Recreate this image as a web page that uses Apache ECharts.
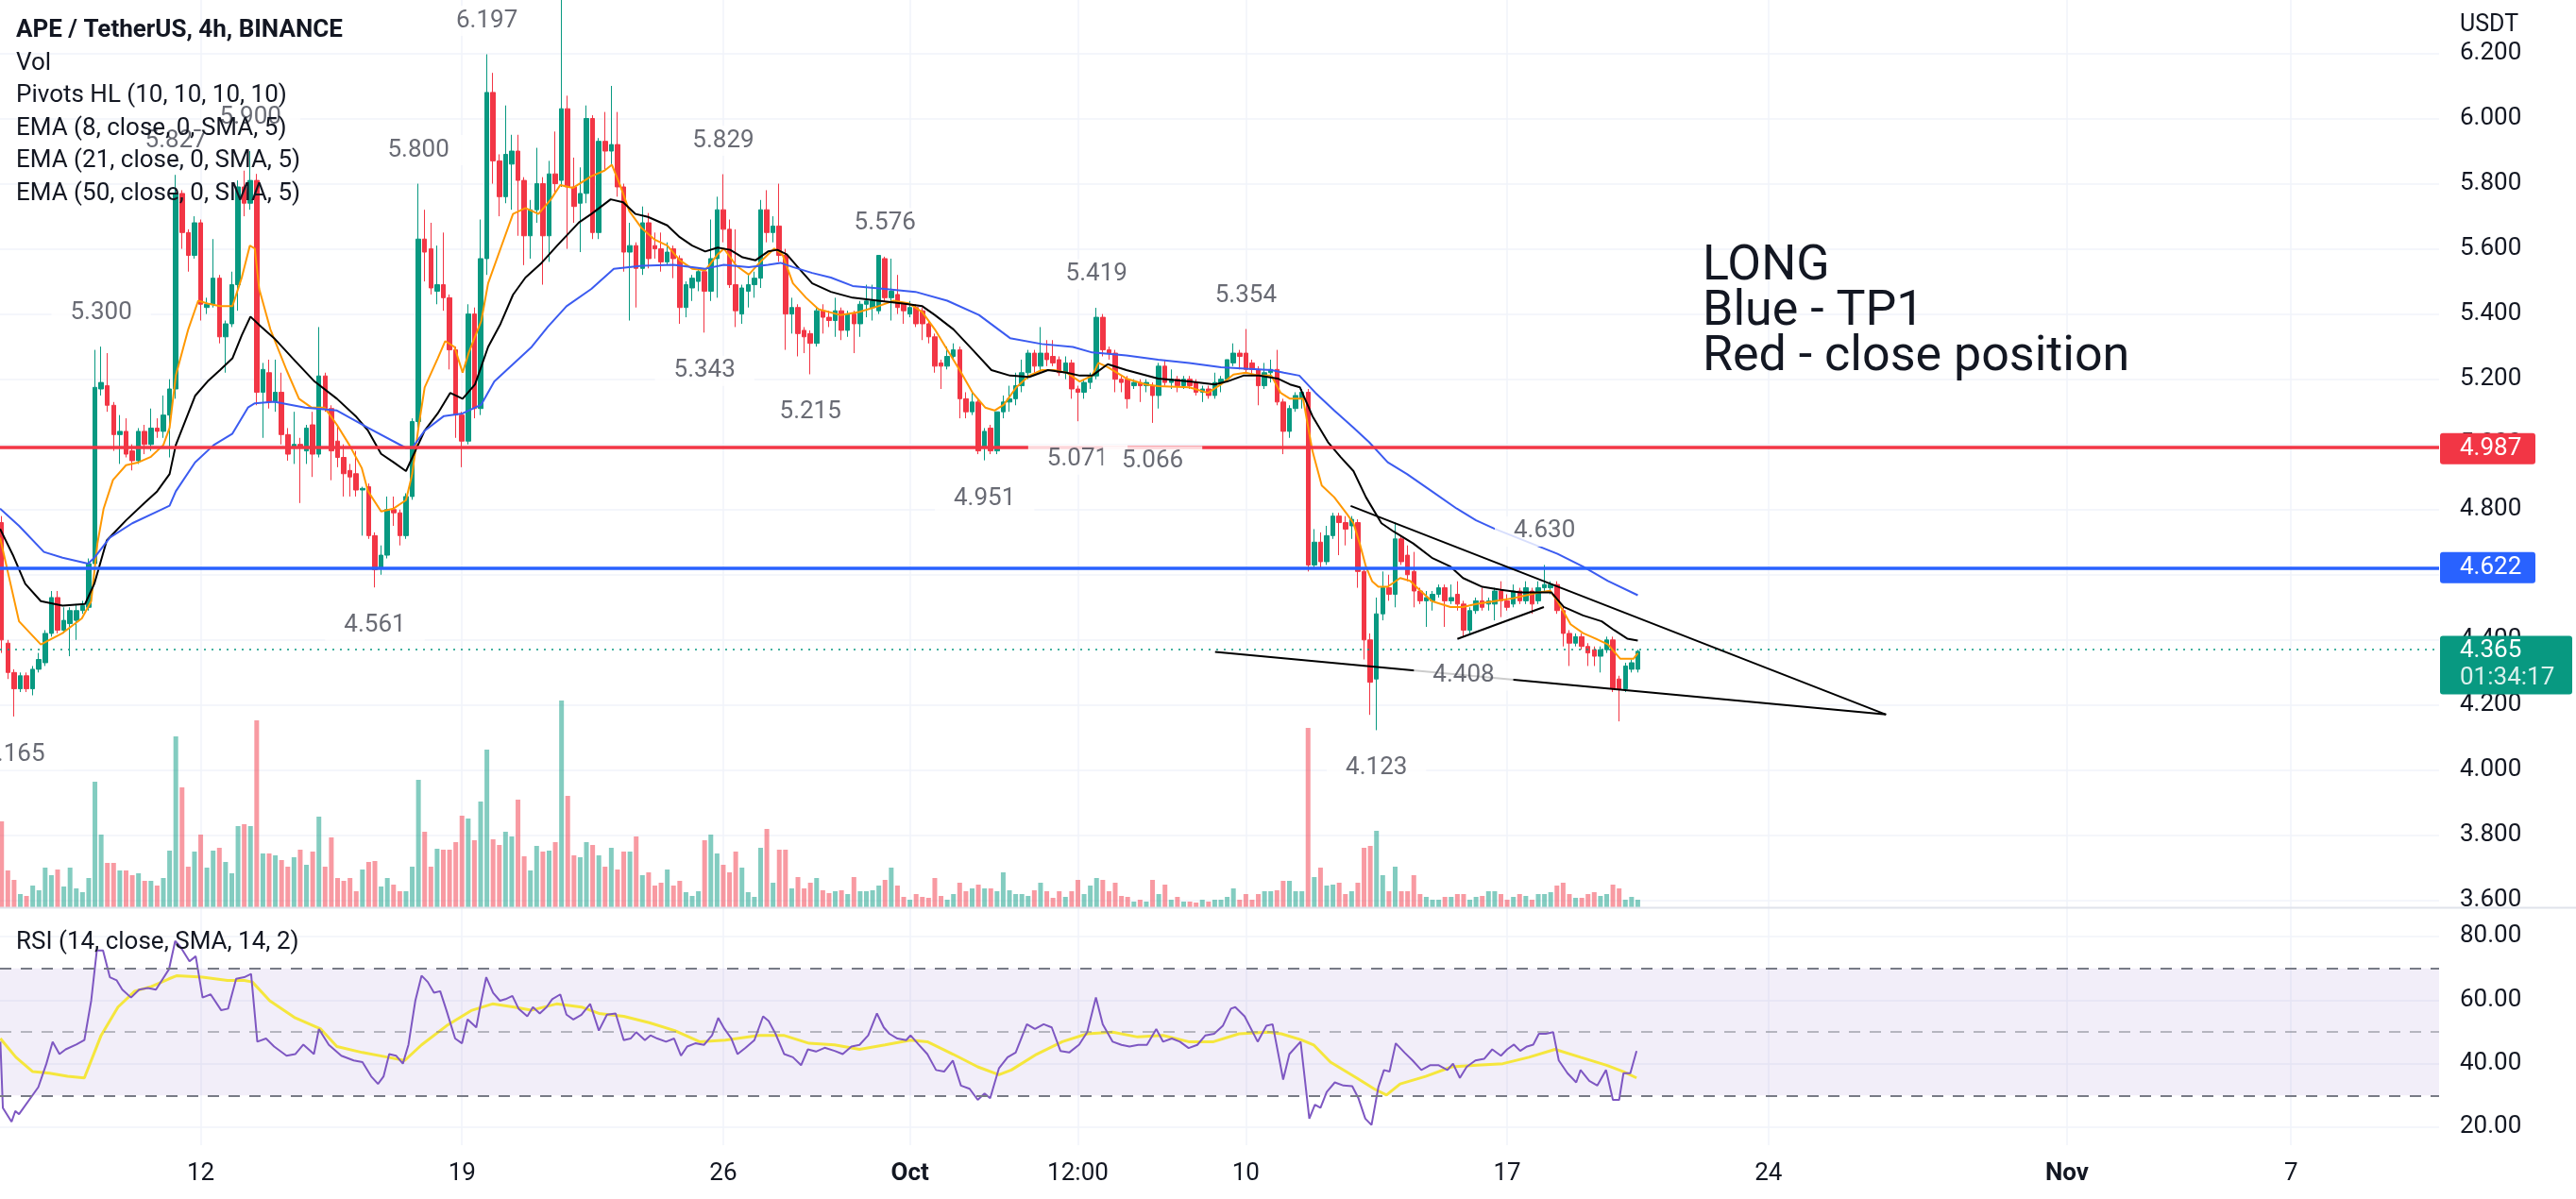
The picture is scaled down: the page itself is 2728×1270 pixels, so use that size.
<!DOCTYPE html>
<html><head><meta charset="utf-8">
<script src="https://cdn.jsdelivr.net/npm/echarts@6/dist/echarts.min.js"></script>
<style>html,body{margin:0;padding:0;background:#fff}#c{width:2728px;height:1270px}</style>
</head><body><div id="c"></div>
<script>
// ---- data (4h bars; bar index 0 = Sep 12 00:00) ----
const firstBar = -32;
const ohlc = [ // [open, close, low, high]
[4.76,4.40,4.36,4.78],[4.39,4.30,4.28,4.40],[4.30,4.25,4.165,4.31],[4.25,4.29,4.24,4.30],[4.29,4.25,4.24,4.30],[4.25,4.31,4.23,4.32],[4.31,4.34,4.30,4.36],[4.33,4.42,4.32,4.43],[4.42,4.53,4.41,4.55],[4.53,4.43,4.42,4.55],
[4.43,4.46,4.42,4.50],[4.45,4.49,4.35,4.50],[4.46,4.49,4.40,4.51],[4.49,4.505,4.48,4.52],[4.50,4.634,4.49,4.65],[4.634,5.175,4.62,5.29],[5.17,5.19,5.15,5.30],[5.18,5.12,5.10,5.28],[5.12,5.03,4.98,5.13],[5.03,5.04,4.94,5.09],
[5.04,4.97,4.96,5.08],[4.98,4.95,4.92,5.00],[4.95,5.04,4.94,5.05],[5.04,5.00,4.97,5.06],[5.00,5.05,4.98,5.11],[5.05,5.04,5.02,5.08],[5.04,5.09,5.02,5.15],[5.09,5.17,4.96,5.20],[5.17,5.77,5.14,5.827],[5.77,5.65,5.60,5.78],
[5.65,5.58,5.53,5.66],[5.58,5.68,5.57,5.70],[5.68,5.43,5.38,5.69],[5.42,5.43,5.40,5.45],[5.43,5.51,5.42,5.63],[5.51,5.33,5.31,5.52],[5.33,5.37,5.22,5.38],[5.37,5.49,5.36,5.53],[5.49,5.79,5.41,5.81],[5.79,5.74,5.70,5.84],
[5.74,5.81,5.72,5.90],[5.81,5.16,5.12,5.83],[5.16,5.23,5.02,5.25],[5.22,5.13,5.11,5.26],[5.13,5.16,5.10,5.26],[5.16,5.03,5.00,5.22],[5.03,4.97,4.95,5.05],[4.99,5.00,4.94,5.10],[5.00,4.99,4.82,5.02],[4.98,5.05,4.94,5.06],
[5.06,4.97,4.90,5.10],[4.97,5.21,4.96,5.36],[5.21,5.11,5.10,5.22],[5.11,4.98,4.89,5.12],[5.01,4.96,4.93,5.06],[4.96,4.91,4.84,5.00],[4.92,4.90,4.84,4.94],[4.91,4.86,4.84,4.98],[4.86,4.865,4.72,4.87],[4.87,4.72,4.71,4.88],
[4.72,4.615,4.561,4.73],[4.62,4.66,4.60,4.69],[4.66,4.80,4.65,4.84],[4.80,4.79,4.75,4.84],[4.79,4.72,4.69,4.80],[4.72,4.84,4.71,4.85],[4.84,5.07,4.83,5.08],[5.07,5.63,5.05,5.80],[5.63,5.59,5.50,5.72],[5.60,5.48,5.46,5.68],
[5.47,5.49,5.43,5.61],[5.49,5.45,5.41,5.65],[5.45,5.29,5.23,5.46],[5.29,5.09,5.02,5.30],[5.09,5.01,4.93,5.10],[5.01,5.40,5.00,5.43],[5.40,5.11,5.08,5.42],[5.11,5.57,5.09,5.69],[5.57,6.08,5.52,6.197],[6.08,5.87,5.80,6.14],
[5.87,5.76,5.70,5.89],[5.76,5.89,5.74,6.04],[5.86,5.90,5.72,5.95],[5.90,5.81,5.64,5.95],[5.81,5.64,5.55,5.82],[5.64,5.72,5.57,5.75],[5.72,5.80,5.68,5.91],[5.80,5.64,5.49,5.82],[5.64,5.83,5.56,5.87],[5.83,5.80,5.77,5.96],
[5.81,6.03,5.79,6.45],[6.03,5.79,5.60,6.07],[5.79,5.73,5.68,5.88],[5.74,5.77,5.59,5.85],[5.77,6.00,5.74,6.04],[6.00,5.65,5.63,6.01],[5.65,5.93,5.63,5.94],[5.93,5.90,5.84,6.02],[5.90,5.92,5.86,6.10],[5.92,5.79,5.76,6.02],
[5.79,5.59,5.53,5.80],[5.59,5.61,5.38,5.68],[5.61,5.54,5.42,5.62],[5.54,5.68,5.52,5.73],[5.68,5.57,5.54,5.71],[5.61,5.60,5.57,5.65],[5.60,5.56,5.53,5.65],[5.56,5.59,5.55,5.62],[5.60,5.57,5.51,5.61],[5.57,5.42,5.37,5.58],
[5.42,5.49,5.39,5.50],[5.48,5.51,5.44,5.52],[5.50,5.53,5.47,5.54],[5.53,5.47,5.343,5.54],[5.47,5.57,5.44,5.69],[5.57,5.72,5.45,5.76],[5.72,5.66,5.62,5.829],[5.66,5.49,5.48,5.69],[5.49,5.41,5.36,5.66],[5.40,5.48,5.37,5.49],
[5.47,5.49,5.42,5.52],[5.49,5.51,5.45,5.53],[5.51,5.72,5.48,5.75],[5.72,5.65,5.62,5.78],[5.65,5.67,5.62,5.70],[5.67,5.58,5.56,5.80],[5.58,5.40,5.29,5.60],[5.40,5.42,5.34,5.45],[5.42,5.34,5.27,5.43],[5.35,5.33,5.28,5.36],
[5.34,5.31,5.215,5.35],[5.31,5.41,5.30,5.42],[5.41,5.39,5.34,5.43],[5.39,5.38,5.36,5.41],[5.38,5.41,5.33,5.45],[5.41,5.35,5.32,5.42],[5.35,5.40,5.33,5.41],[5.40,5.37,5.28,5.41],[5.37,5.43,5.33,5.44],[5.43,5.44,5.39,5.49],
[5.42,5.44,5.38,5.49],[5.41,5.58,5.40,5.58],[5.57,5.45,5.44,5.576],[5.45,5.47,5.38,5.57],[5.46,5.42,5.40,5.52],[5.43,5.41,5.37,5.43],[5.40,5.42,5.39,5.44],[5.42,5.37,5.36,5.43],[5.41,5.37,5.32,5.42],[5.37,5.33,5.31,5.38],
[5.33,5.24,5.22,5.34],[5.25,5.24,5.17,5.26],[5.24,5.27,5.23,5.30],[5.27,5.29,5.26,5.31],[5.29,5.14,5.08,5.30],[5.14,5.10,5.08,5.16],[5.10,5.13,5.09,5.16],[5.13,4.98,4.97,5.14],[4.99,5.04,4.951,5.05],[5.05,4.98,4.97,5.06],
[4.98,5.10,4.97,5.10],[5.10,5.13,5.08,5.15],[5.13,5.14,5.10,5.18],[5.14,5.18,5.12,5.22],[5.18,5.22,5.16,5.26],[5.22,5.28,5.20,5.29],[5.28,5.24,5.22,5.29],[5.24,5.28,5.22,5.36],[5.28,5.26,5.24,5.32],[5.27,5.25,5.24,5.32],
[5.26,5.22,5.21,5.27],[5.22,5.25,5.20,5.27],[5.25,5.17,5.14,5.26],[5.17,5.16,5.071,5.18],[5.16,5.19,5.14,5.20],[5.19,5.21,5.17,5.22],[5.21,5.39,5.20,5.419],[5.39,5.29,5.27,5.40],[5.29,5.28,5.26,5.30],[5.28,5.20,5.16,5.29],
[5.20,5.19,5.16,5.21],[5.20,5.14,5.11,5.21],[5.18,5.19,5.17,5.20],[5.19,5.18,5.13,5.20],[5.18,5.19,5.16,5.20],[5.18,5.15,5.066,5.19],[5.15,5.24,5.11,5.25],[5.24,5.19,5.18,5.26],[5.19,5.20,5.17,5.23],[5.20,5.18,5.16,5.21],
[5.18,5.20,5.17,5.21],[5.20,5.18,5.17,5.21],[5.19,5.16,5.15,5.20],[5.16,5.17,5.13,5.18],[5.17,5.15,5.14,5.18],[5.15,5.19,5.14,5.22],[5.19,5.20,5.16,5.21],[5.20,5.26,5.19,5.26],[5.25,5.28,5.24,5.31],[5.28,5.27,5.23,5.29],
[5.28,5.23,5.22,5.354],[5.25,5.23,5.21,5.26],[5.23,5.18,5.12,5.24],[5.18,5.22,5.17,5.25],[5.22,5.23,5.19,5.26],[5.23,5.13,5.12,5.29],[5.13,5.04,4.97,5.14],[5.04,5.11,5.02,5.12],[5.11,5.15,5.10,5.16],[5.14,5.16,5.11,5.17],
[5.16,4.63,4.61,5.17],[4.63,4.70,4.62,4.74],[4.70,4.64,4.62,4.73],[4.64,4.72,4.63,4.75],[4.72,4.78,4.71,4.79],[4.78,4.76,4.66,4.79],[4.76,4.74,4.69,4.78],[4.75,4.77,4.71,4.78],[4.76,4.61,4.56,4.77],[4.61,4.40,4.34,4.62],
[4.40,4.27,4.17,4.42],[4.28,4.48,4.123,4.53],[4.48,4.56,4.46,4.61],[4.56,4.54,4.52,4.60],[4.54,4.71,4.50,4.76],[4.71,4.64,4.63,4.72],[4.66,4.60,4.58,4.69],[4.61,4.55,4.50,4.67],[4.55,4.52,4.51,4.56],[4.52,4.53,4.44,4.55],
[4.52,4.54,4.49,4.55],[4.54,4.56,4.53,4.57],[4.56,4.52,4.44,4.57],[4.52,4.53,4.51,4.57],[4.54,4.51,4.49,4.58],[4.51,4.43,4.408,4.52],[4.43,4.49,4.42,4.50],[4.49,4.52,4.48,4.53],[4.52,4.50,4.49,4.56],[4.51,4.52,4.49,4.53],
[4.51,4.55,4.46,4.56],[4.55,4.52,4.47,4.58],[4.52,4.50,4.49,4.54],[4.51,4.55,4.50,4.57],[4.55,4.52,4.51,4.56],[4.52,4.56,4.51,4.58],[4.55,4.51,4.48,4.56],[4.52,4.56,4.51,4.58],[4.56,4.57,4.55,4.630],[4.56,4.57,4.54,4.58],
[4.57,4.49,4.48,4.58],[4.49,4.42,4.38,4.50],[4.42,4.39,4.32,4.43],[4.39,4.41,4.38,4.42],[4.41,4.38,4.37,4.42],[4.38,4.36,4.32,4.39],[4.37,4.35,4.32,4.38],[4.35,4.37,4.30,4.38],[4.37,4.40,4.36,4.41],[4.40,4.25,4.24,4.41],
[4.28,4.25,4.15,4.29],[4.25,4.32,4.24,4.33],[4.31,4.33,4.30,4.34],[4.31,4.365,4.30,4.37]
];
const volume = [
91,39,29,14,12,23,18,42,34,40, 22,42,20,16,31,133,77,47,47,39, 39,34,36,28,28,23,31,60,181,127, 43,59,77,42,60,63,48,36,86,88,
86,198,57,57,55,50,43,53,61,45, 59,96,43,74,31,28,31,17,40,48, 49,22,31,24,17,17,43,135,80,43, 62,61,61,69,97,94,71,112,167,72,
66,80,75,114,54,39,65,59,60,69, 219,118,55,53,69,66,55,43,63,40, 59,59,75,34,37,23,26,40,23,28, 16,12,17,71,77,57,45,37,59,42,
16,11,63,83,26,61,61,20,32,20, 26,31,18,15,17,18,14,32,17,17, 18,23,29,42,23,11,8,14,11,10, 31,12,8,14,26,17,20,24,20,20,
17,37,18,14,14,12,18,26,17,10, 17,11,17,29,14,23,31,29,17,26, 12,11,6,8,6,29,14,24,8,11, 6,6,5,8,6,8,8,11,20,8,
14,8,14,17,17,18,28,28,17,17, 190,32,42,23,24,26,14,17,26,63, 65,81,34,17,43,17,17,34,14,11, 8,8,11,11,14,14,8,11,12,17,
17,14,8,11,14,12,8,14,14,16, 23,26,14,10,10,14,16,12,14,24, 20,8,11,8
];
const volumeMax = 961;
const ema8 = [[-32.25,4.714],[-29.2,4.457],[-25.7,4.386],[-22.2,4.421],[-19.1,4.466],[-17.6,4.519],[-16.6,4.696],[-15.6,4.803],[-14.1,4.891],[-12,4.936],[-10,4.945],[-8,4.962],[-6,4.998],[-5,5.051],[-4,5.211],[-2,5.353],[-0.4,5.441],[1.1,5.432],[3.1,5.424],[5.1,5.424],[6.6,5.512],[7.9,5.610],[8.7,5.601],[9.4,5.477],[11.2,5.353],[13.8,5.228],[15.8,5.140],[17.8,5.113],[19.9,5.113],[21.9,5.060],[23.9,4.998],[25.9,4.927],[26.9,4.856],[29,4.794],[31,4.803],[33,4.829],[34,4.909],[35,5.051],[36,5.175],[38.1,5.264],[39.3,5.317],[40.8,5.299],[42.1,5.220],[43.1,5.282],[45.1,5.379],[46.2,5.494],[48.2,5.601],[50.2,5.707],[52.2,5.725],[54.3,5.707],[56.3,5.752],[57.8,5.796],[59.8,5.787],[62.8,5.823],[64.9,5.840],[66.1,5.858],[67.4,5.796],[68.9,5.716],[70.9,5.663],[73,5.628],[75,5.610],[77,5.565],[79,5.539],[81.1,5.534],[83.1,5.583],[84.1,5.601],[86.1,5.548],[88.1,5.521],[90.2,5.565],[92.2,5.601],[93.5,5.583],[95.2,5.494],[97.3,5.450],[99.3,5.415],[102.8,5.397],[105.8,5.406],[108.9,5.424],[111.4,5.441],[113.9,5.432],[116,5.406],[118,5.353],[120,5.290],[122,5.228],[124.1,5.158],[126.1,5.113],[127.6,5.104],[129.1,5.122],[131.1,5.175],[133.2,5.211],[135.2,5.228],[137.2,5.228],[139.2,5.220],[141.3,5.193],[143.3,5.211],[144.3,5.25],[145.8,5.237],[148.8,5.202],[151.9,5.184],[153.9,5.179],[158.9,5.175],[161.9,5.158],[164,5.184],[166,5.214],[168,5.220],[170.1,5.211],[172.1,5.211],[173.6,5.158],[175.1,5.140],[177.2,5.140],[178.7,4.980],[180.2,4.874],[182.2,4.838],[184.3,4.785],[185.3,4.758],[186.3,4.696],[187.3,4.625],[188.3,4.58],[189.3,4.563],[190.8,4.563],[192.8,4.590],[194.4,4.581],[195.9,4.554],[197.9,4.519],[200.9,4.501],[202.9,4.501],[205,4.510],[208,4.519],[211,4.528],[213.1,4.537],[215.1,4.546],[216.9,4.551],[218.1,4.519],[220.2,4.448],[222.2,4.421],[224.2,4.404],[226.2,4.386],[228.2,4.342],[230.3,4.342],[231,4.359]];
const ema21 = [[-32.25,4.741],[-30.2,4.661],[-28.2,4.572],[-25.7,4.519],[-22.2,4.505],[-18.6,4.510],[-17.1,4.572],[-15.1,4.705],[-12,4.767],[-9,4.821],[-7,4.856],[-5,4.909],[-4,4.998],[-0.9,5.149],[1.1,5.193],[3.1,5.228],[5.1,5.264],[6.6,5.335],[8,5.392],[9.7,5.361],[11.8,5.326],[14.8,5.264],[18.3,5.193],[21.9,5.140],[24.9,5.087],[26.9,5.042],[29,4.971],[31,4.945],[33,4.918],[34.5,4.980],[36,5.042],[38.1,5.095],[40.1,5.158],[42.1,5.140],[44.1,5.184],[46.2,5.299],[48.2,5.370],[50.2,5.459],[52.2,5.512],[54.8,5.557],[57.3,5.610],[60.8,5.681],[62.8,5.707],[65.9,5.752],[67.9,5.743],[69.9,5.707],[71.9,5.698],[75,5.672],[77,5.636],[79,5.610],[81.1,5.592],[83.1,5.604],[85.1,5.597],[87.1,5.574],[89.2,5.565],[91.2,5.592],[92.7,5.597],[94.2,5.583],[96.2,5.539],[98.3,5.494],[101.3,5.468],[104.8,5.450],[108.9,5.441],[112.9,5.432],[116,5.424],[118,5.397],[121,5.353],[124.1,5.290],[127.1,5.228],[130.1,5.211],[133.2,5.207],[136.2,5.228],[139.2,5.220],[141.3,5.211],[143.3,5.211],[145.8,5.246],[148.8,5.228],[153.9,5.202],[158.9,5.193],[163,5.184],[165,5.193],[167.6,5.211],[170.1,5.211],[173.1,5.202],[175.1,5.184],[176.7,5.175],[178.7,5.087],[181.2,5.007],[183.2,4.962],[185.3,4.918],[187.3,4.838],[189.8,4.758],[191.8,4.732],[194.9,4.696],[197.9,4.652],[200.9,4.625],[202.9,4.590],[206,4.563],[209,4.554],[212.1,4.546],[215.1,4.546],[217.1,4.546],[219.1,4.501],[222.2,4.475],[225.2,4.457],[227.2,4.430],[229.3,4.404],[231,4.398]];
const ema50 = [[-32.25,4.803],[-29.2,4.750],[-25.2,4.670],[-22.2,4.652],[-18.1,4.634],[-17.1,4.652],[-14.6,4.714],[-11,4.758],[-7,4.794],[-5,4.812],[-4,4.856],[-0.9,4.945],[2.1,4.998],[5.1,5.033],[7.6,5.113],[8.7,5.126],[11.8,5.131],[16.8,5.113],[21.9,5.104],[26.9,5.051],[33,4.989],[34,4.989],[36,5.042],[39.1,5.087],[42.1,5.095],[45.1,5.122],[47.2,5.193],[50.2,5.246],[53.2,5.299],[55.8,5.361],[58.8,5.424],[62.8,5.477],[66.4,5.539],[70.9,5.548],[76,5.551],[81.1,5.539],[84.1,5.551],[88.1,5.544],[91.2,5.551],[93.2,5.557],[95.2,5.544],[98.3,5.526],[101.3,5.512],[104.8,5.486],[109.9,5.477],[114.9,5.468],[120,5.441],[125.1,5.397],[130.1,5.326],[135.2,5.308],[140.2,5.299],[143.3,5.282],[148.8,5.273],[153.9,5.260],[158.9,5.250],[164,5.237],[168,5.232],[172.1,5.228],[174.1,5.220],[176.6,5.211],[179.2,5.158],[182.2,5.104],[185.3,5.051],[187.8,5.007],[190.8,4.945],[193.9,4.909],[197.9,4.856],[201.9,4.803],[205,4.767],[208,4.741],[218.1,4.664],[222.2,4.625],[226.2,4.581],[231,4.537]];
const rsi = [[-32.2,46.9],[-31.8,26.1],[-30.4,21.7],[-29.8,25.1],[-29.2,24.1],[-26.1,32.6],[-24.8,40.0],[-23.8,46.9],[-22.7,43.0],[-21.7,44.5],[-20.0,46.0],[-18.7,47.4],[-17.6,59.8],[-16.7,75.6],[-15.7,75.6],[-14.6,67.2],[-13.5,66.2],[-12.6,63.3],[-11.2,60.8],[-9.9,63.3],[-8.5,63.8],[-7.2,63.3],[-5.1,69.7],[-4.1,78.6],[-3.2,76.6],[-1.8,72.2],[-0.8,73.8],[0.3,60.8],[1.6,61.8],[3.3,56.8],[4.4,57.3],[5.7,66.7],[7.0,67.2],[8.1,68.2],[9.1,46.9],[10.5,47.9],[11.8,45.4],[13.8,42.5],[15.2,43.0],[16.5,46.0],[18.2,43.0],[19.0,50.9],[20.6,45.9],[22.6,42.5],[24.6,41.0],[26.0,40.5],[27.4,36.0],[28.5,33.6],[29.4,36.0],[30.3,43.0],[31.4,42.5],[32.5,40.0],[33.4,46.0],[34.5,59.8],[35.5,67.7],[36.5,65.7],[37.5,62.3],[38.5,62.8],[39.5,56.8],[40.9,47.9],[42.0,46.4],[42.9,53.9],[44.3,51.4],[45.0,58.8],[45.9,67.2],[47.0,62.3],[48.1,59.8],[49.0,60.3],[50.1,61.3],[51.1,57.3],[52.5,54.9],[53.4,57.8],[54.5,55.8],[55.6,57.8],[56.5,60.3],[57.8,61.8],[58.8,55.4],[59.9,53.9],[61.2,55.4],[62.6,58.8],[64.0,50.4],[65.3,55.4],[66.7,55.8],[68.0,47.4],[69.1,47.9],[70.0,49.9],[71.4,47.4],[72.3,48.9],[73.4,47.9],[74.8,46.9],[76.1,47.9],[77.2,42.5],[78.2,45.4],[79.5,46.4],[80.9,45.9],[82.2,48.9],[83.2,54.4],[84.2,50.9],[85.3,47.9],[86.3,43.0],[87.6,45.0],[89.0,47.4],[90.4,54.9],[91.3,53.4],[92.4,49.4],[93.8,43.0],[95.2,42.0],[96.5,39.5],[97.6,44.5],[98.9,43.8],[100.3,45.0],[101.9,44.0],[103.2,43.0],[104.6,45.4],[105.9,45.9],[107.3,48.9],[108.7,55.8],[109.8,51.4],[110.7,49.4],[112.0,47.9],[113.4,47.4],[114.1,48.9],[115.4,46.0],[116.8,43.0],[118.2,38.0],[119.5,37.5],[120.9,41.0],[122.2,33.1],[123.6,32.1],[124.9,28.6],[126.0,30.6],[126.9,29.1],[128.3,38.5],[129.7,42.0],[131.0,43.5],[132.8,52.4],[134.1,50.9],[135.5,52.4],[136.8,51.4],[138.2,44.0],[139.6,43.5],[141.2,46.0],[142.5,49.9],[143.9,60.8],[145.0,52.4],[146.6,46.9],[148.0,45.9],[149.3,45.4],[150.7,45.9],[152.1,45.9],[153.6,50.9],[154.7,46.9],[156.1,47.9],[157.4,46.9],[158.8,44.9],[160.2,45.9],[161.5,48.9],[162.9,49.4],[164.3,51.9],[165.6,57.3],[166.3,57.8],[167.8,54.9],[169.9,46.9],[171.3,51.9],[172.3,52.4],[174.0,35.0],[175.0,43.0],[176.8,46.9],[178.2,22.7],[179.1,27.1],[180.0,26.1],[181.0,31.1],[182.3,34.1],[183.7,33.1],[185.1,32.9],[186.1,29.1],[187.2,22.7],[188.2,20.7],[189.3,32.6],[190.2,38.0],[191.1,37.5],[192.1,46.4],[193.5,43.5],[194.8,41.0],[196.2,38.0],[197.6,39.5],[199.0,39.5],[200.4,38.0],[201.3,40.0],[202.4,35.5],[203.5,39.0],[204.9,41.0],[206.3,41.5],[207.6,44.5],[209.0,42.5],[210.0,44.5],[211.1,46.0],[212.1,44.0],[213.2,45.4],[214.2,46.0],[215.1,49.4],[216.2,49.4],[217.4,49.9],[218.3,41.0],[219.7,37.0],[221.1,34.1],[221.8,38.0],[223.2,34.6],[224.5,33.1],[225.9,38.0],[227.0,28.6],[228.0,28.6],[228.7,37.0],[229.8,37.0],[230.8,44.0]];
const rsiMA = [[-32.2,47.9],[-29.7,42.0],[-27,37.5],[-24.3,37.0],[-21.4,36.0],[-18.7,35.5],[-16,48.9],[-13.3,57.8],[-10.6,62.8],[-7.9,64.3],[-5.1,66.7],[-3.8,67.7],[0.3,67.2],[4.3,66.2],[7,66.2],[8.3,65.7],[11.1,59.8],[15.2,54.4],[19.3,50.9],[21.9,45.4],[26,43.5],[30.1,42.0],[32.8,41.0],[35.5,45.9],[39.5,51.9],[43.6,56.8],[46.9,58.8],[50.4,57.8],[53.1,56.8],[57.2,58.8],[61.2,57.8],[64,55.8],[68,54.9],[72.1,52.9],[76.2,50.4],[80.2,46.9],[84.3,47.4],[89.7,48.9],[93.7,48.9],[97.8,46.4],[101.9,45.9],[105.9,44.5],[110,45.9],[114.1,47.4],[116.8,46.9],[120.9,43.0],[124.9,39.0],[128.3,36.5],[130.3,38.0],[134.4,43.0],[138.5,46.9],[142.5,49.4],[146.6,49.9],[150.6,48.4],[154.7,48.9],[158.8,46.9],[162.8,46.9],[166.9,49.4],[171.5,49.9],[173.7,49.4],[176.9,47.5],[178.9,45.9],[181.6,40.5],[185.8,35.5],[188.6,32.1],[190.6,30.1],[192.8,33.6],[196.9,36.0],[201.1,39.0],[205.2,39.5],[209.3,40.0],[213.5,42.0],[217.7,44.5],[221.8,42.0],[226,39.5],[228.7,37.5],[230.8,35.5]];
const pivotHighs = [[-16,5.300],[-4,5.827],[8,5.900],[35,5.800],[46,6.197],[84,5.829],[110,5.576],[144,5.419],[168,5.354],[216,4.630]];
const pivotLows = [[-30,4.165],[28,4.561],[81,5.343],[98,5.215],[126,4.951],[141,5.071],[153,5.066],[189,4.123],[203,4.408]];
const timeTicks = [0,42,84,114,141,168,210,252,300,336];
const timeLabels = ['12','19','26','Oct','12:00','10','17','24','Nov','7'];
const priceTicks = [3.6,3.8,4.0,4.2,4.4,4.6,4.8,5.0,5.2,5.4,5.6,5.8,6.0,6.2];
const rsiTicks = [20,40,60,80];
const levelClose = 4.987, levelTP1 = 4.622, lastPrice = 4.365, countdown = '01:34:17';
const trendLines = [[[184.85,4.811],[270.9,4.171]],[[163.05,4.363],[270.9,4.171]],[[202.0,4.403],[215.9,4.501]]];
const legendLines = ['Vol','Pivots HL (10, 10, 10, 10)','EMA (8, close, 0, SMA, 5)','EMA (21, close, 0, SMA, 5)','EMA (50, close, 0, SMA, 5)'];
const noteLines = ['LONG','Blue - TP1','Red - close position'];

// ---- chart ----
const FONT = 'Roboto, "Noto Sans", sans-serif';
const TXT = '#131722', UP = '#089981', DOWN = '#F23645', BLUE = '#2962FF';
const GRIDC = '#f0f3fa';
const X_MIN = -32.26, X_MAX = 359.8;
const chart = echarts.init(document.getElementById('c'), null, {width:2728, height:1270});

const candleData = ohlc.map((d,i)=>[firstBar+i, d[0], d[1], d[2], d[3]]);
const volData = volume.map((v,i)=>({value:[firstBar+i, v], itemStyle:{color: ohlc[i][1]>=ohlc[i][0] ? 'rgba(8,153,129,0.5)' : 'rgba(242,54,69,0.5)'}}));

function xAxisDef(gi, labels){
  return {type:'value', gridIndex:gi, min:X_MIN, max:X_MAX,
    axisLine:{show:false}, axisTick:{show:false, customValues:timeTicks},
    splitLine:{show:true, lineStyle:{color:GRIDC, width:1.5}},
    axisLabel: labels ? {show:true, customValues:timeTicks, margin:17, color:TXT, fontSize:26, fontFamily:FONT,
      formatter:v=>{const i=timeTicks.indexOf(Math.round(v)); const t=i<0?'':timeLabels[i]; return (t==='Oct'||t==='Nov')?'{b|'+t+'}':t;},
      rich:{b:{fontWeight:'bold', fontSize:26, fontFamily:FONT, color:TXT}}} : {show:false}};
}

const trendData = trendLines.map(l=>[{coord:l[0]},{coord:l[1]}]);

const gText = (id,x,y,text,font,extra)=>Object.assign({type:'text', id, x, y, z:100, silent:true,
  style:{text, font, fill:TXT, align:'left', verticalAlign:'middle'}}, extra||{});

const graphics = [
  {type:'line', id:'sep', z:100, silent:true, shape:{x1:0,y1:961.5,x2:2728,y2:961.5}, style:{stroke:'#e0e3eb', lineWidth:2}},
  gText('title',17,32,'APE / TetherUS, 4h, BINANCE','bold 26px '+FONT),
  gText('usdt',2605,27,'USDT','25px '+FONT),
  gText('rsiLeg',17,998,'RSI (14, close, SMA, 14, 2)','26px '+FONT)
];
legendLines.forEach((t,i)=>graphics.push(gText('leg'+i,17,67+i*34.5,t,'26px '+FONT)));
noteLines.forEach((t,i)=>graphics.push(gText('note'+i,1803,283+i*48,t,'52px '+FONT)));

const pivotLabel = (pos, dist)=>({show:true, position:pos, distance:dist, color:'#434651', fontSize:26, fontFamily:FONT,
  backgroundColor:'#ffffff', padding:[3,20], formatter:p=>p.value[1].toFixed(3)});

chart.setOption({
  animation:false,
  backgroundColor:'#ffffff',
  grid:[{left:0, top:0, width:2583, height:961}, {left:0, top:962, width:2583, height:251}],
  xAxis:[xAxisDef(0,false), xAxisDef(1,true)],
  yAxis:[
    {type:'value', gridIndex:0, position:'right', min:3.5796, max:6.3636,
      axisLine:{show:false}, axisTick:{show:false, customValues:priceTicks},
      splitLine:{show:true, lineStyle:{color:GRIDC, width:1.5}},
      axisLabel:{customValues:priceTicks, formatter:v=>v.toFixed(3), color:TXT, fontSize:26, fontFamily:FONT, margin:22, align:'left'}},
    {type:'value', gridIndex:0, min:0, max:volumeMax, show:false},
    {type:'value', gridIndex:1, position:'right', min:14.34, max:88.91,
      axisLine:{show:false}, axisTick:{show:false, customValues:rsiTicks},
      splitLine:{show:true, lineStyle:{color:GRIDC, width:1.5}},
      axisLabel:{customValues:rsiTicks, formatter:v=>v.toFixed(2), color:TXT, fontSize:26, fontFamily:FONT, margin:22, align:'left'}}
  ],
  series:[
    {type:'bar', name:'Vol', xAxisIndex:0, yAxisIndex:1, data:volData, barWidth:5, z:1, silent:true},
    {type:'candlestick', name:'APE', xAxisIndex:0, yAxisIndex:0, data:candleData, encode:{x:0, y:[1,2,3,4]},
      barWidth:5, clip:true, silent:true, z:2,
      itemStyle:{color:UP, color0:DOWN, borderColor:UP, borderColor0:DOWN, borderWidth:1},
      markLine:{symbol:'none', silent:true, z:5, label:{show:false}, animation:false,
        data:[
          {yAxis:levelClose, lineStyle:{color:DOWN, width:3.5, type:'solid'}},
          {yAxis:levelTP1, lineStyle:{color:BLUE, width:3.5, type:'solid'}},
          {yAxis:lastPrice, lineStyle:{color:UP, width:1.5, type:[2,6]}}
        ].concat(trendData.map(d=>[Object.assign({lineStyle:{color:'#000000', width:2, type:'solid'}}, d[0]), d[1]]))}},
    {type:'line', name:'EMA8', xAxisIndex:0, yAxisIndex:0, data:ema8, showSymbol:false, silent:true, z:3, lineStyle:{color:'#FF9800', width:2}},
    {type:'line', name:'EMA21', xAxisIndex:0, yAxisIndex:0, data:ema21, showSymbol:false, silent:true, z:3, lineStyle:{color:'#000000', width:2}},
    {type:'line', name:'EMA50', xAxisIndex:0, yAxisIndex:0, data:ema50, showSymbol:false, silent:true, z:3, lineStyle:{color:'#3b5bf0', width:2}},
    {type:'scatter', name:'PivotH', xAxisIndex:0, yAxisIndex:0, data:pivotHighs, symbolSize:1, itemStyle:{color:'rgba(0,0,0,0)'}, silent:true, z:10, label:pivotLabel('top',19)},
    {type:'scatter', name:'PivotL', xAxisIndex:0, yAxisIndex:0, data:pivotLows, symbolSize:1, itemStyle:{color:'rgba(0,0,0,0)'}, silent:true, z:10, label:pivotLabel('bottom',24)},
    {type:'line', name:'RSI', xAxisIndex:1, yAxisIndex:2, data:rsi, showSymbol:false, silent:true, z:4, lineStyle:{color:'#7E57C2', width:2},
      markArea:{silent:true, itemStyle:{color:'rgba(126,87,194,0.1)'}, data:[[{yAxis:30},{yAxis:70}]]},
      markLine:{symbol:'none', silent:true, label:{show:false}, lineStyle:{color:'#787B86', width:2, type:[12,10]},
        data:[{yAxis:70},{yAxis:50, lineStyle:{color:'rgba(120,123,134,0.5)', width:2, type:[12,10]}},{yAxis:30}]}},
    {type:'line', name:'RSI MA', xAxisIndex:1, yAxisIndex:2, data:rsiMA, showSymbol:false, silent:true, z:3, lineStyle:{color:'#F5E63D', width:3}}
  ],
  graphic: graphics
});

// price tags on the right axis, positioned through the price axis
function tag(id, value, color, w, h, lines){
  const y = chart.convertToPixel({yAxisIndex:0}, value);
  const els = [{type:'rect', id:id+'_r', z:110, silent:true, shape:{x:2584, y:y-16.5, width:w, height:h, r:3}, style:{fill:color}}];
  lines.forEach((t,i)=>els.push({type:'text', id:id+'_t'+i, z:111, silent:true, x:2605, y:y+i*29,
    style:{text:t, font:'26px '+FONT, fill:i===0?'#ffffff':'rgba(255,255,255,0.85)', align:'left', verticalAlign:'middle'}}));
  return els;
}
chart.setOption({graphic: [].concat(
  tag('tagClose', levelClose, DOWN, 101, 33, [levelClose.toFixed(3)]),
  tag('tagTP1', levelTP1, BLUE, 101, 33, [levelTP1.toFixed(3)]),
  tag('tagLast', lastPrice, UP, 140, 62, [lastPrice.toFixed(3), countdown])
)});
</script></body></html>
